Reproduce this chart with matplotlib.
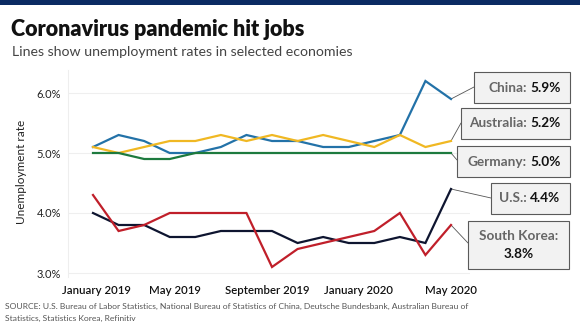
import matplotlib
matplotlib.use("Agg")
import matplotlib.pyplot as plt
from matplotlib.patches import Rectangle

# ---- data ----
months = ["Jan 2019", "Feb 2019", "Mar 2019", "Apr 2019", "May 2019", "Jun 2019",
          "Jul 2019", "Aug 2019", "Sep 2019", "Oct 2019", "Nov 2019", "Dec 2019",
          "Jan 2020", "Feb 2020", "Mar 2020"]
china = [5.1, 5.3, 5.2, 5.0, 5.0, 5.1, 5.3, 5.2, 5.2, 5.1, 5.1, 5.2, 5.3, 6.2, 5.9]
australia = [5.1, 5.0, 5.1, 5.2, 5.2, 5.3, 5.2, 5.3, 5.2, 5.3, 5.2, 5.1, 5.3, 5.1, 5.2]
germany = [5.0, 5.0, 4.9, 4.9, 5.0, 5.0, 5.0, 5.0, 5.0, 5.0, 5.0, 5.0, 5.0, 5.0, 5.0]
us = [4.0, 3.8, 3.8, 3.6, 3.6, 3.7, 3.7, 3.7, 3.5, 3.6, 3.5, 3.5, 3.6, 3.5, 4.4]
south_korea = [4.3, 3.7, 3.8, 4.0, 4.0, 4.0, 4.0, 3.1, 3.4, 3.5, 3.6, 3.7, 4.0, 3.3, 3.8]

xtick_labels = ["January 2019", "May 2019", "September 2019", "January 2020", "May 2020"]
xtick_pos = [0.12, 3.2, 6.8, 10.4, 14.0]
ytick_vals = [3.0, 4.0, 5.0, 6.0]
ytick_labels = ["3.0%", "4.0%", "5.0%", "6.0%"]

series = [
    ("China", china, "#2372a8"),
    ("Australia", australia, "#f0b823"),
    ("Germany", germany, "#1d7a3e"),
    ("U.S.", us, "#0e1530"),
    ("South Korea", south_korea, "#c01f2a"),
]

plt.rcParams['font.family'] = ['Lato', 'DejaVu Sans']

W, H = 580, 326
fig = plt.figure(figsize=(W / 100, H / 100), dpi=100)
fig.patch.set_facecolor("white")

def fx(px):
    return px / W

def fy(py):
    return 1 - py / H

# top bar
fig.patches.append(Rectangle((0, fy(5)), 1, 5 / H, transform=fig.transFigure,
                             facecolor="#0b2b63", edgecolor="none"))

fig.text(fx(11), fy(29), "Coronavirus pandemic hit jobs", fontsize=15.5, fontweight="heavy",
         color="#111111", va="center", ha="left")
fig.text(fx(12), fy(52), "Lines show unemployment rates in selected economies", fontsize=10.2,
         color="#444444", va="center", ha="left")

ax_left, ax_right, ax_top, ax_bot = 68, 470, 70, 277
ax = fig.add_axes([fx(ax_left), fy(ax_bot), (ax_right - ax_left) / W, (ax_bot - ax_top) / H])
x = list(range(len(months)))
for name, vals, col in series:
    ax.plot(x, vals, color=col, lw=1.6, solid_joinstyle="miter", zorder=3)

ppu = (451 - 93) / 14.0
ax.set_xlim(-(93 - ax_left) / ppu, 14 + (ax_right - 451) / ppu)
ax.set_ylim(3.0 - (ax_bot - 273) / 60.0, 6.0 + (93 - ax_top) / 60.0)
ax.set_yticks(ytick_vals)
ax.set_yticklabels(ytick_labels, fontsize=8, color="#222222")
ax.set_xticks(xtick_pos)
ax.set_xticklabels(xtick_labels, fontsize=8.2, color="#111111", fontweight="semibold")
ax.tick_params(length=0, axis="y", pad=5)
ax.tick_params(length=0, axis="x", pad=6)
ax.grid(axis="y", color="#efefef", lw=0.8)
for s in ["top", "right", "bottom"]:
    ax.spines[s].set_visible(False)
ax.spines["left"].set_color("#eeeeee")
ax.spines["left"].set_linewidth(0.8)
ax.set_facecolor("none")

fig.text(fx(22), fy(172), "Unemployment rate", rotation=90, fontsize=8.5, color="#222222",
         va="center", ha="center")

# label boxes: (series idx, box x0, x1, y0, y1, connector end)
boxes = [
    (0, 474, 570, 72, 103, (474, 87)),
    (1, 461, 570, 108, 139, (461, 123)),
    (2, 457, 570, 146, 177, (457, 160)),
    (3, 491, 570, 183, 214, (491, 198)),
    (4, 468, 569, 221, 269, (468, 243)),
]
for i, x0, x1, y0, y1, end in boxes:
    name, vals, col = series[i]
    fig.patches.append(Rectangle((fx(x0), fy(y1)), (x1 - x0) / W, (y1 - y0) / H,
                                 transform=fig.transFigure, facecolor="#f2f2f2",
                                 edgecolor="#5a5a5a", lw=0.8, zorder=5))
    ax.annotate("", xy=(x[-1], vals[-1]), xycoords="data",
                xytext=(end[0], H - end[1]), textcoords="figure pixels",
                arrowprops=dict(arrowstyle="-", color="#555555", lw=0.6,
                                shrinkA=0, shrinkB=0), annotation_clip=False, zorder=2)
    val = f"{vals[-1]:.1f}%"
    if name == "South Korea":
        fig.text(fx((x0 + x1) / 2), fy(236), name + ":", fontsize=9.8, fontweight="bold",
                 color="#666666", ha="center", va="center", zorder=6)
        fig.text(fx((x0 + x1) / 2), fy(254), val, fontsize=9.8, fontweight="bold",
                 color="#111111", ha="center", va="center", zorder=6)
    else:
        yc = (y0 + y1) / 2
        fig.text(fx(527), fy(yc), name + ":", fontsize=9.8, fontweight="bold",
                 color="#666666", ha="right", va="center", zorder=6)
        fig.text(fx(530), fy(yc), val, fontsize=9.8, fontweight="bold",
                 color="#111111", ha="left", va="center", zorder=6)

fig.text(fx(5), fy(306), "SOURCE: U.S. Bureau of Labor Statistics, National Bureau of Statistics of China, "
         "Deutsche Bundesbank, Australian Bureau of", fontsize=6.1, color="#555555",
         ha="left", va="center")
fig.text(fx(5), fy(318), "Statistics, Statistics Korea, Refinitiv", fontsize=6.1, color="#555555",
         ha="left", va="center")

fig.savefig("out.png", dpi=100)
